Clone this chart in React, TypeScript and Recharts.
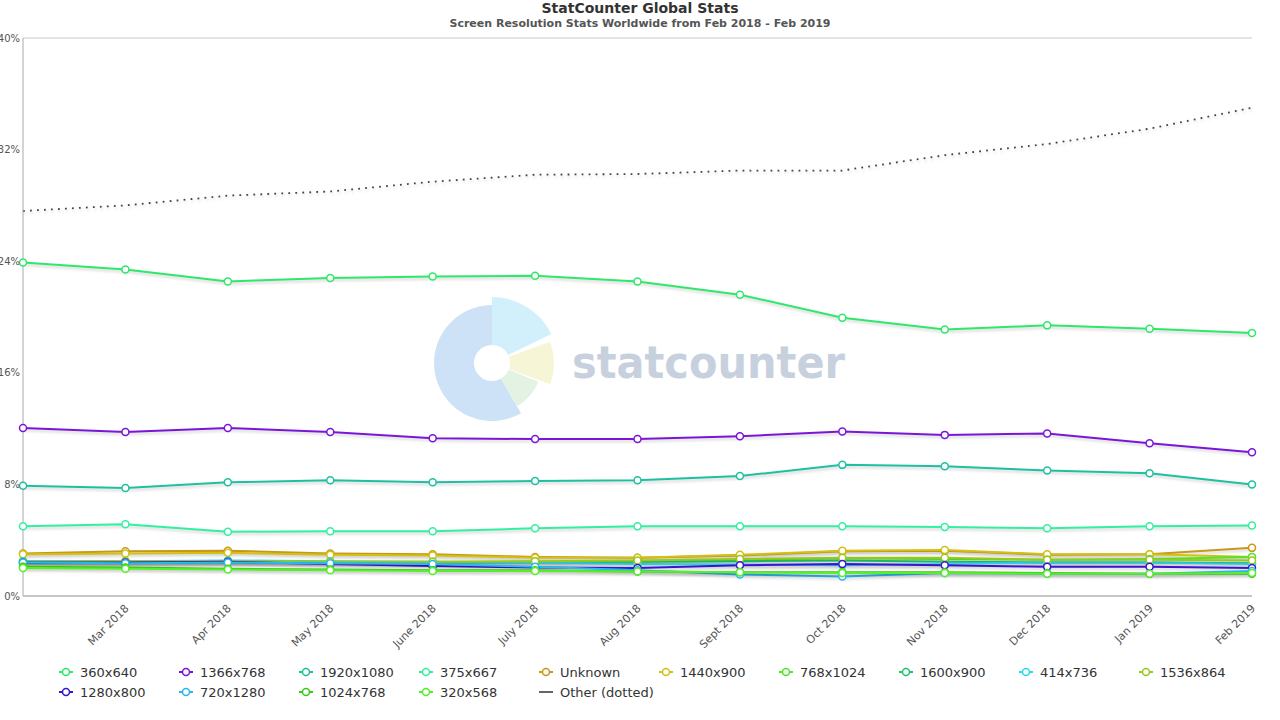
import React from "react";
import { LineChart, Line, XAxis, YAxis, CartesianGrid } from "recharts";

const months = ["Feb 2018", "Mar 2018", "Apr 2018", "May 2018", "June 2018", "July 2018", "Aug 2018", "Sept 2018", "Oct 2018", "Nov 2018", "Dec 2018", "Jan 2019", "Feb 2019"];
const yTicks = [0, 8, 16, 24, 32, 40];

const s360x640 = [23.9, 23.4, 22.55, 22.8, 22.9, 22.95, 22.55, 21.6, 19.95, 19.1, 19.4, 19.15, 18.85];
const s1366x768 = [12.05, 11.75, 12.05, 11.75, 11.3, 11.25, 11.25, 11.45, 11.8, 11.55, 11.65, 10.95, 10.3];
const s1920x1080 = [7.9, 7.75, 8.15, 8.3, 8.15, 8.25, 8.3, 8.6, 9.4, 9.3, 9.0, 8.8, 8.0];
const s375x667 = [5.0, 5.15, 4.6, 4.65, 4.65, 4.85, 5.0, 5.0, 5.0, 4.95, 4.85, 5.0, 5.05];
const sUnknown = [3.05, 3.2, 3.25, 3.05, 3.0, 2.8, 2.75, 2.9, 3.2, 3.25, 2.95, 3.0, 3.45];
const s1440x900 = [3.0, 3.05, 3.1, 2.95, 2.9, 2.75, 2.75, 2.95, 3.25, 3.3, 3.0, 3.0, 2.8];
const s768x1024 = [2.35, 2.35, 2.4, 2.4, 2.4, 2.45, 2.5, 2.6, 2.7, 2.65, 2.6, 2.65, 2.8];
const s1600x900 = [2.5, 2.45, 2.45, 2.45, 2.4, 2.4, 2.45, 2.5, 2.55, 2.45, 2.4, 2.4, 2.35];
const s414x736 = [2.5, 2.5, 2.55, 2.5, 2.45, 2.4, 2.3, 2.25, 2.2, 2.3, 2.4, 2.4, 2.3];
const s1536x864 = [2.45, 2.5, 2.5, 2.45, 2.45, 2.5, 2.55, 2.65, 2.75, 2.75, 2.6, 2.6, 2.55];
const s1280x800 = [2.4, 2.4, 2.45, 2.3, 2.15, 2.05, 2.0, 2.2, 2.3, 2.2, 2.1, 2.1, 2.0];
const s720x1280 = [2.4, 2.35, 2.4, 2.35, 2.3, 2.1, 1.85, 1.55, 1.4, 1.65, 1.6, 1.6, 1.8];
const s1024x768 = [2.1, 2.05, 1.95, 1.9, 1.85, 1.85, 1.75, 1.7, 1.7, 1.7, 1.65, 1.6, 1.6];
const s320x568 = [2.0, 1.95, 1.9, 1.85, 1.8, 1.8, 1.75, 1.7, 1.65, 1.65, 1.6, 1.6, 1.65];
const sOther = [27.6, 28.0, 28.7, 29.0, 29.7, 30.2, 30.25, 30.5, 30.5, 31.6, 32.4, 33.5, 35.0];

const seriesNames = ["360x640", "1366x768", "1920x1080", "375x667", "Unknown", "1440x900", "768x1024", "1600x900", "414x736", "1536x864", "1280x800", "720x1280", "1024x768", "320x568", "Other (dotted)"];
const seriesValues = [s360x640, s1366x768, s1920x1080, s375x667, sUnknown, s1440x900, s768x1024, s1600x900, s414x736, s1536x864, s1280x800, s720x1280, s1024x768, s320x568, sOther];
const seriesColors = ["#2ee86a", "#7b16d9", "#1fc0a0", "#33f0a0", "#c8981a", "#d4c010", "#4ee62a", "#22c46c", "#2ad8f0", "#9cc81a", "#3a12d0", "#28b8f0", "#3ac81a", "#55f02a", "#666666"];

const data = months.map((m, i) => {
  const row: any = { month: m };
  seriesNames.forEach((n, k) => {
    row[n] = seriesValues[k][i];
  });
  return row;
});

const FONT = "'DejaVu Sans', Verdana, sans-serif";

const XTick = (props: any) => {
  const { x, y, payload, index } = props;
  if (index === 0) return null;
  const ax = x + 4;
  const ay = y + 13;
  return (
    <text x={ax} y={ay} transform={`rotate(-45 ${ax} ${ay})`} textAnchor="end" fontSize={11} fill="#555" fontFamily={FONT}>
      {payload.value}
    </text>
  );
};

const LegendBlock = () => (
  <div style={{ position: "absolute", left: 0, top: 663, width: 1280, height: 40, fontFamily: FONT }}>
    {seriesNames.map((n, k) => {
      const col = k % 10;
      const row = Math.floor(k / 10);
      const isOther = n === "Other (dotted)";
      return (
        <div key={n} style={{ position: "absolute", left: 58 + col * 120, top: row * 20, height: 18, display: "flex", alignItems: "center", whiteSpace: "nowrap" }}>
          <svg width={16} height={12} style={{ marginRight: 6 }}>
            <line x1={1} y1={6} x2={15} y2={6} stroke={seriesColors[k]} strokeWidth={2} />
            {!isOther && <circle cx={8} cy={6} r={3.5} fill="#fff" stroke={seriesColors[k]} strokeWidth={1.5} />}
          </svg>
          <span style={{ fontSize: 13, color: "#333" }}>{n}</span>
        </div>
      );
    })}
  </div>
);

const Watermark = () => {
  const cx = 492, cy = 363;
  const arc = (r0: number, r1: number, a0: number, a1: number) => {
    const p = (r: number, a: number) => {
      const rad = ((a - 90) * Math.PI) / 180;
      return `${cx + r * Math.cos(rad)} ${cy + r * Math.sin(rad)}`;
    };
    const large = a1 - a0 > 180 ? 1 : 0;
    return `M ${p(r1, a0)} A ${r1} ${r1} 0 ${large} 1 ${p(r1, a1)} L ${p(r0, a1)} A ${r0} ${r0} 0 ${large} 0 ${p(r0, a0)} Z`;
  };
  return (
    <svg width={1280} height={720} style={{ position: "absolute", left: 0, top: 0, pointerEvents: "none" }}>
      <path d={arc(18, 58, 150, 360)} fill="#cde2f6" />
      <path d={arc(18, 66, 0, 64)} fill="#d2f0fb" />
      <path d={arc(18, 62, 70, 110)} fill="#f6f6d6" />
      <path d={arc(18, 50, 112, 150)} fill="#e3f2e3" />
      <text x={572} y={378} fontSize={44} fontWeight="bold" fill="#c7d1de" fontFamily={FONT} textLength={273} lengthAdjust="spacingAndGlyphs">
        statcounter
      </text>
    </svg>
  );
};

export default function App() {
  return (
    <div style={{ position: "absolute", left: 0, top: 0, width: 1280, height: 720, background: "#fff", fontFamily: FONT }}>
      <style>{`.recharts-line-curve { filter: drop-shadow(1px 2px 1.5px rgba(0,0,0,0.18)); }`}</style>
      <Watermark />
      <div style={{ position: "absolute", left: 0, top: 0, width: 1280, textAlign: "center", fontSize: 14, fontWeight: "bold", color: "#333", lineHeight: "16px" }}>
        StatCounter Global Stats
      </div>
      <div style={{ position: "absolute", left: 0, top: 17, width: 1280, textAlign: "center", fontSize: 11, fontWeight: "bold", color: "#555", lineHeight: "14px" }}>
        Screen Resolution Stats Worldwide from Feb 2018 - Feb 2019
      </div>
      <div style={{ position: "absolute", left: 0, top: 0 }}>
        <LineChart width={1280} height={720} data={data} margin={{ top: 38, right: 28, left: 0, bottom: 0 }}>
          <CartesianGrid horizontal={true} vertical={false} stroke="#c8c8c8" />
          <XAxis dataKey="month" tick={<XTick />} tickLine={false} tickSize={0} tickMargin={0} axisLine={{ stroke: "#aaa" }} height={124} interval={0} padding={{ left: 0, right: 0 }} />
          <YAxis yAxisId="left" domain={[0, 40]} ticks={yTicks} tickFormatter={(v: number) => `${v}%`} tick={{ fontSize: 10, fill: "#555", fontFamily: FONT }} tickLine={false} tickSize={0} tickMargin={3} axisLine={{ stroke: "#aaa" }} width={23} interval={0} />
          <YAxis yAxisId="right" orientation="right" domain={[0, 40]} tick={false} tickLine={false} axisLine={{ stroke: "#aaa" }} width={0} />
          {seriesNames.map((n, k) => {
            const isOther = n === "Other (dotted)";
            return (
              <Line
                key={n}
                yAxisId="left"
                type="linear"
                dataKey={n}
                stroke={isOther ? "#444" : seriesColors[k]}
                strokeWidth={isOther ? 1.8 : 2}
                strokeDasharray={isOther ? "1.8 5.2" : undefined}
                dot={isOther ? false : { r: 3.5, fill: "#fff", stroke: seriesColors[k], strokeWidth: 1.5 }}
                activeDot={false}
                isAnimationActive={false}
              />
            );
          })}
        </LineChart>
      </div>
      <LegendBlock />
    </div>
  );
}
